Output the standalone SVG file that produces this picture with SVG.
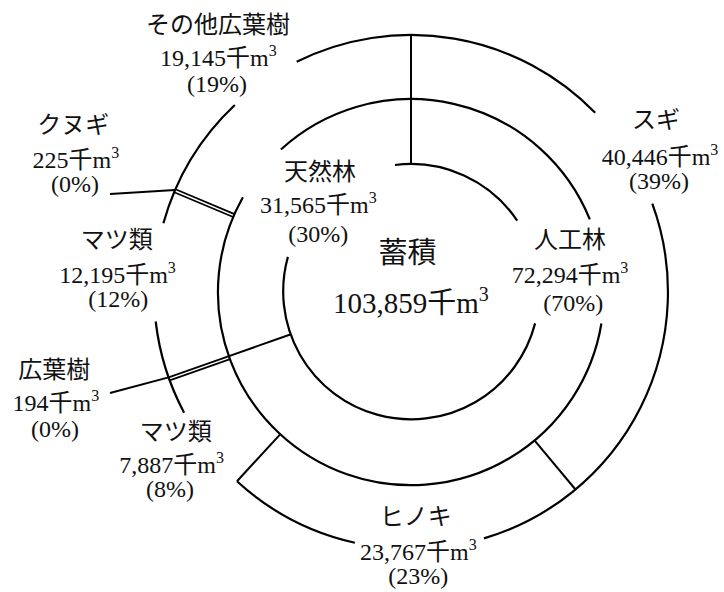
<svg xmlns="http://www.w3.org/2000/svg" width="724" height="592" viewBox="0 0 724 592">
<style>
.ring{fill:none;stroke:#000;stroke-width:2.2}
.ln{fill:none;stroke:#000;stroke-width:2}
.thin{fill:none;stroke:#000;stroke-width:1.7}
text{font-family:"Liberation Serif","Noto Sans CJK JP",serif;font-size:24px;fill:#111;text-anchor:middle}
.big{font-size:29px}
.sup{font-size:16px}
.bsup{font-size:20px}
</style>
<rect width="724" height="592" fill="#fff"/>
<g id="rings">
<path class="ring" d="M535.1 323.4 A128 128 0 1 1 287.9 256.9"/>
<path class="ring" d="M395.0 165.0 A128 128 0 0 1 517.2 220.6"/>
<path class="ring" d="M280.9 149.5 A193 193 0 0 1 589.8 219.4"/>
<path class="ring" d="M601.4 323.5 A193 193 0 1 1 242.9 197.3"/>
<path class="ring" d="M296.7 61.8 A257 257 0 0 1 595.2 112.8"/>
<path class="ring" d="M652.3 203.7 A257 257 0 0 1 484.0 538.4"/>
<path class="ring" d="M354.9 542.8 A257 257 0 0 1 237.0 481.2"/>
<path class="ring" d="M184.1 412.7 A257 257 0 0 1 155.7 321.5"/>
<path class="ring" d="M163.4 223.3 A257 257 0 0 1 234.8 105.0"/>
</g>
<g id="connectors">
<line class="ln" x1="411" y1="35" x2="411" y2="164"/>
<line class="ln" x1="534.5" y1="440.3" x2="575.5" y2="489.5"/>
<line class="ln" x1="280.4" y1="434.1" x2="237.0" y2="481.2"/>
<line class="ln" x1="290.3" y1="334.5" x2="229.0" y2="356.1"/>
<line class="thin" x1="229.0" y1="356.1" x2="168.6" y2="377.4"/>
<line class="thin" x1="230.1" y1="359.1" x2="169.7" y2="380.4"/>
<line class="ln" x1="168.6" y1="377.4" x2="110" y2="393"/>
<line class="thin" x1="233.2" y1="217.0" x2="174.2" y2="192.2"/>
<line class="thin" x1="234.5" y1="214.1" x2="175.5" y2="189.3"/>
<line class="ln" x1="175" y1="190" x2="110" y2="194"/>
</g>
<g id="node-total">
<text class="big" x="407.5" y="262.5">蓄積</text>
<text class="big" x="410.8" y="313">103,859千m<tspan class="bsup" dy="-12">3</tspan></text>
</g>
<g id="node-natural">
<text x="320" y="179.5">天然林</text>
<text x="318.3" y="213">31,565千m<tspan class="sup" dy="-10">3</tspan></text>
<text x="318.3" y="242.4">(30%)</text>
</g>
<g id="node-planted">
<text x="570" y="248">人工林</text>
<text x="570" y="283">72,294千m<tspan class="sup" dy="-10">3</tspan></text>
<text x="573.3" y="311">(70%)</text>
</g>
<g id="node-sugi">
<text x="656" y="128">スギ</text>
<text x="660" y="165">40,446千m<tspan class="sup" dy="-10">3</tspan></text>
<text x="659" y="189">(39%)</text>
</g>
<g id="node-hinoki">
<text x="415.8" y="524.5">ヒノキ</text>
<text x="418.3" y="560">23,767千m<tspan class="sup" dy="-10">3</tspan></text>
<text x="418.3" y="584">(23%)</text>
</g>
<g id="node-pine-planted">
<text x="175.8" y="439.5">マツ類</text>
<text x="171.7" y="473">7,887千m<tspan class="sup" dy="-10">3</tspan></text>
<text x="170" y="497.4">(8%)</text>
</g>
<g id="node-broadleaf-planted">
<text x="54.2" y="378">広葉樹</text>
<text x="55.8" y="411">194千m<tspan class="sup" dy="-10">3</tspan></text>
<text x="55" y="437.4">(0%)</text>
</g>
<g id="node-pine-natural">
<text x="116.7" y="248">マツ類</text>
<text x="117.5" y="283">12,195千m<tspan class="sup" dy="-10">3</tspan></text>
<text x="118.3" y="307.4">(12%)</text>
</g>
<g id="node-kunugi">
<text x="73.3" y="133">クヌギ</text>
<text x="75.8" y="168">225千m<tspan class="sup" dy="-10">3</tspan></text>
<text x="75" y="192.4">(0%)</text>
</g>
<g id="node-other-broadleaf">
<text x="218" y="33">その他広葉樹</text>
<text x="218.3" y="66">19,145千m<tspan class="sup" dy="-10">3</tspan></text>
<text x="217" y="92">(19%)</text>
</g>
</svg>
